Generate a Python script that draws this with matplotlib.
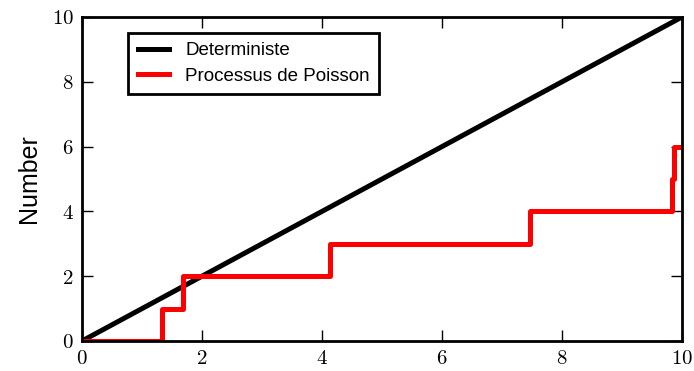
import numpy as np
import matplotlib
matplotlib.use("Agg")
import matplotlib.pyplot as plt
from matplotlib.ticker import FuncFormatter

# data
det_x = [0, 10]
det_y = [0, 10]
jump_times = [1.33, 1.68, 4.13, 7.47, 9.84, 9.86]
t_end = 10

poisson_x = [0] + jump_times + [t_end]
poisson_y = list(range(len(jump_times) + 1)) + [len(jump_times)]

plt.rcParams['mathtext.fontset'] = 'cm'
plt.rcParams['font.family'] = ['Liberation Sans', 'DejaVu Sans']

fig = plt.figure(figsize=(6.94, 3.71), dpi=100)
ax = fig.add_axes([82 / 694, 1 - 341 / 371, 600 / 694, 324 / 371])

ax.plot(det_x, det_y, color='black', lw=3.6, label='Deterministe')
ax.step(poisson_x, poisson_y, where='post', color='red', lw=3.6,
        label='Processus de Poisson')

ax.set_xlim(0, 10)
ax.set_ylim(0, 10)
ax.set_xticks(np.arange(0, 11, 2))
ax.set_yticks(np.arange(0, 11, 2))
fmt = FuncFormatter(lambda v, p: f"${v:g}$")
ax.xaxis.set_major_formatter(fmt)
ax.yaxis.set_major_formatter(fmt)
ax.tick_params(direction='in', length=8, width=1, top=True, right=True,
               labelsize=15, pad=6)
for s in ax.spines.values():
    s.set_linewidth(2)

ax.set_ylabel('Number', fontsize=18, labelpad=8)

leg = ax.legend(loc='upper left', bbox_to_anchor=(0.077, 0.951),
                borderaxespad=0, fontsize=13.5, fancybox=False,
                handlelength=1.7, handletextpad=0.85, borderpad=0.5,
                labelspacing=0.45, framealpha=1)
leg.get_frame().set_edgecolor('black')
leg.get_frame().set_linewidth(2)

fig.savefig('out.png', dpi=100)
